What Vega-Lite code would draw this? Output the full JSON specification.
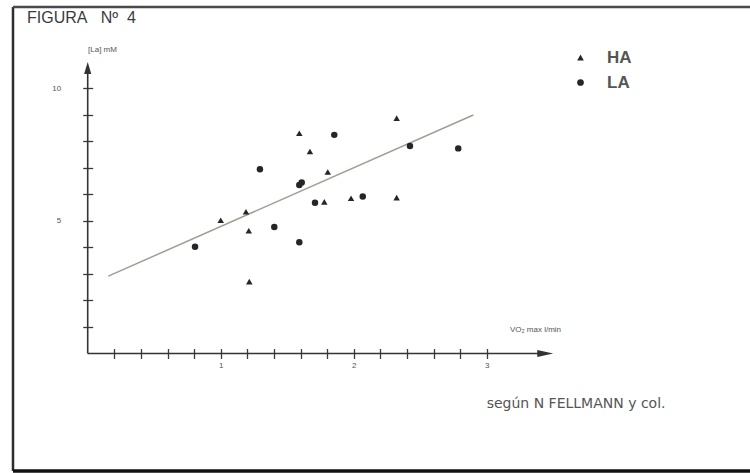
{
  "$schema": "https://vega.github.io/schema/vega-lite/v6.json",
  "autosize": {"type": "none"},
  "width": 739,
  "height": 464,
  "padding": {"left": 13, "top": 7, "right": 0, "bottom": 2},
  "background": "white",
  "config": {
    "view": {"stroke": null},
    "font": "Liberation Sans"
  },
  "title": {
    "text": "FIGURA\u00a0\u00a0\u00a0Nº\u00a0\u00a04",
    "anchor": "start",
    "frame": "group",
    "orient": "top",
    "offset": -20,
    "dx": 14,
    "fontSize": 16,
    "fontWeight": "normal",
    "color": "#3a3a3a",
    "font": "Liberation Sans"
  },
  "layer": [
    {
      "data": {"values": [{}]},
      "mark": {"type": "rule", "color": "#2e2e2e", "strokeWidth": 2.5, "clip": false},
      "encoding": {
        "x": {"datum": -0.5617, "type": "quantitative", "scale": {"domain": [-0.5617, 4.9947], "nice": false, "zero": false}},
        "y": {"datum": -4.434, "type": "quantitative", "scale": {"domain": [-4.434, 13.075], "nice": false, "zero": false}},
        "y2": {"datum": 13.075}
      }
    },
    {
      "data": {"values": [{}]},
      "mark": {"type": "rule", "color": "#4a4a4a", "strokeWidth": 2.5},
      "encoding": {
        "x": {"datum": -0.5617, "type": "quantitative", "scale": {"domain": [-0.5617, 4.9947], "nice": false, "zero": false}},
        "x2": {"datum": 4.9947},
        "y": {"datum": 13.075, "type": "quantitative", "scale": {"domain": [-4.434, 13.075], "nice": false, "zero": false}}
      }
    },
    {
      "data": {"values": [{}]},
      "mark": {"type": "rule", "color": "#111", "strokeWidth": 3.5},
      "encoding": {
        "x": {"datum": -0.5617, "type": "quantitative", "scale": {"domain": [-0.5617, 4.9947], "nice": false, "zero": false}},
        "x2": {"datum": 4.9947},
        "y": {"datum": -4.434, "type": "quantitative", "scale": {"domain": [-4.434, 13.075], "nice": false, "zero": false}}
      }
    },
    {
      "data": {"values": [{}]},
      "mark": {"type": "rule", "color": "#333", "strokeWidth": 1.6},
      "encoding": {
        "x": {"datum": 0, "type": "quantitative", "scale": {"domain": [-0.5617, 4.9947], "nice": false, "zero": false}},
        "x2": {"datum": 3.45},
        "y": {"datum": 0, "type": "quantitative", "scale": {"domain": [-4.434, 13.075], "nice": false, "zero": false}}
      }
    },
    {
      "data": {"values": [{}]},
      "mark": {"type": "rule", "color": "#333", "strokeWidth": 1.6},
      "encoding": {
        "x": {"datum": 0, "type": "quantitative", "scale": {"domain": [-0.5617, 4.9947], "nice": false, "zero": false}},
        "y": {"datum": 0, "type": "quantitative", "scale": {"domain": [-4.434, 13.075], "nice": false, "zero": false}},
        "y2": {"datum": 10.8}
      }
    },
    {
      "data": {"values": [{}]},
      "mark": {"type": "point", "filled": true, "color": "#333", "opacity": 1, "size": 256, "shape": "M-1,-0.45L1,0L-1,0.45Z"},
      "encoding": {
        "x": {"datum": 3.44, "type": "quantitative", "scale": {"domain": [-0.5617, 4.9947], "nice": false, "zero": false}},
        "y": {"datum": 0, "type": "quantitative", "scale": {"domain": [-4.434, 13.075], "nice": false, "zero": false}}
      }
    },
    {
      "data": {"values": [{}]},
      "mark": {"type": "point", "filled": true, "color": "#333", "opacity": 1, "size": 144, "shape": "M-0.6,1L0,-1L0.6,1Z"},
      "encoding": {
        "x": {"datum": 0, "type": "quantitative", "scale": {"domain": [-0.5617, 4.9947], "nice": false, "zero": false}},
        "y": {"datum": 10.77, "type": "quantitative", "scale": {"domain": [-4.434, 13.075], "nice": false, "zero": false}}
      }
    },
    {
      "data": {"values": [{"vo2": 0.155, "la": 2.92}, {"vo2": 2.899, "la": 9.0}]},
      "mark": {"type": "line", "color": "#a39c92", "strokeWidth": 1.5},
      "encoding": {
        "x": {"field": "vo2", "type": "quantitative", "scale": {"domain": [-0.5617, 4.9947], "nice": false, "zero": false}},
        "y": {"field": "la", "type": "quantitative", "scale": {"domain": [-4.434, 13.075], "nice": false, "zero": false}}
      }
    },
    {
      "data": {"values": [{"note": "según N FELLMANN y col."}]},
      "mark": {"type": "text", "align": "left", "baseline": "middle", "fontSize": 14, "color": "#555", "font": "DejaVu Sans"},
      "encoding": {
        "x": {"datum": 3.0, "type": "quantitative", "scale": {"domain": [-0.5617, 4.9947], "nice": false, "zero": false}},
        "y": {"datum": -1.906, "type": "quantitative", "scale": {"domain": [-4.434, 13.075], "nice": false, "zero": false}},
        "text": {"field": "note", "type": "nominal"}
      }
    },
    {
      "data": {
        "values": [
          {"group": "HA", "vo2": 1.591, "la": 8.31},
          {"group": "HA", "vo2": 1.671, "la": 7.62},
          {"group": "HA", "vo2": 1.805, "la": 6.85},
          {"group": "HA", "vo2": 1.779, "la": 5.72},
          {"group": "HA", "vo2": 1.98, "la": 5.86},
          {"group": "HA", "vo2": 1.19, "la": 5.35},
          {"group": "HA", "vo2": 1.0, "la": 5.03},
          {"group": "HA", "vo2": 1.211, "la": 4.63},
          {"group": "HA", "vo2": 1.215, "la": 2.71},
          {"group": "HA", "vo2": 2.323, "la": 8.88},
          {"group": "HA", "vo2": 2.323, "la": 5.88},
          {"group": "LA", "vo2": 1.854, "la": 8.25},
          {"group": "LA", "vo2": 1.295, "la": 6.95},
          {"group": "LA", "vo2": 1.591, "la": 6.36},
          {"group": "LA", "vo2": 1.609, "la": 6.45},
          {"group": "LA", "vo2": 1.709, "la": 5.69},
          {"group": "LA", "vo2": 2.068, "la": 5.92},
          {"group": "LA", "vo2": 1.403, "la": 4.77},
          {"group": "LA", "vo2": 0.807, "la": 4.03},
          {"group": "LA", "vo2": 1.591, "la": 4.2},
          {"group": "LA", "vo2": 2.423, "la": 7.83},
          {"group": "LA", "vo2": 2.786, "la": 7.74}
        ]
      },
      "mark": {"type": "point", "filled": true, "color": "#262626", "opacity": 1, "size": 42},
      "encoding": {
        "x": {
          "field": "vo2",
          "type": "quantitative",
          "scale": {"domain": [-0.5617, 4.9947], "nice": false, "zero": false},
          "axis": {
            "orient": "bottom",
            "offset": -122.5,
            "domain": false,
            "grid": false,
            "values": [0.2, 0.4, 0.6, 0.8, 1, 1.2, 1.4, 1.6, 1.8, 2, 2.2, 2.4, 2.6, 2.8, 3],
            "tickSize": 10,
            "tickColor": "#3a3a3a",
            "tickWidth": 1.3,
            "labelExpr": "datum.value % 1 == 0 ? '' + datum.value : ''",
            "labelFontSize": 8,
            "labelColor": "#555",
            "labelPadding": 3,
            "labelFlush": false,
            "labelOverlap": false,
            "title": "VO₂ max l/min",
            "titleX": 522,
            "titleY": -19.5,
            "titleFontSize": 8,
            "titleFontWeight": "normal",
            "titleColor": "#555",
            "titleAlign": "center",
            "titleBaseline": "middle"
          }
        },
        "y": {
          "field": "la",
          "type": "quantitative",
          "scale": {"domain": [-4.434, 13.075], "nice": false, "zero": false},
          "axis": {
            "orient": "left",
            "offset": -79.7,
            "domain": false,
            "grid": false,
            "values": [1, 2, 3, 4, 5, 6, 7, 8, 9, 10],
            "tickSize": 10,
            "tickColor": "#3a3a3a",
            "tickWidth": 1.3,
            "labelExpr": "datum.value % 5 == 0 ? '' + datum.value : ''",
            "labelFontSize": 8,
            "labelColor": "#555",
            "labelPadding": 22,
            "labelFlush": false,
            "labelOverlap": false,
            "title": "[La] mM",
            "titleX": 9.3,
            "titleY": 42,
            "titleAngle": 0,
            "titleFontSize": 8,
            "titleFontWeight": "normal",
            "titleColor": "#555",
            "titleAlign": "center",
            "titleBaseline": "middle"
          }
        },
        "shape": {
          "field": "group",
          "type": "nominal",
          "scale": {"domain": ["HA", "LA"], "range": ["triangle-up", "circle"]},
          "legend": {
            "orient": "none",
            "legendX": 559,
            "legendY": 42,
            "title": null,
            "labelFontSize": 17,
            "labelFont": "Liberation Sans",
            "labelFontWeight": "bold",
            "labelColor": "#555",
            "labelOffset": 18,
            "symbolSize": 45,
            "symbolFillColor": "#222",
            "symbolStrokeColor": "#222",
            "rowPadding": 7
          }
        }
      }
    }
  ]
}
